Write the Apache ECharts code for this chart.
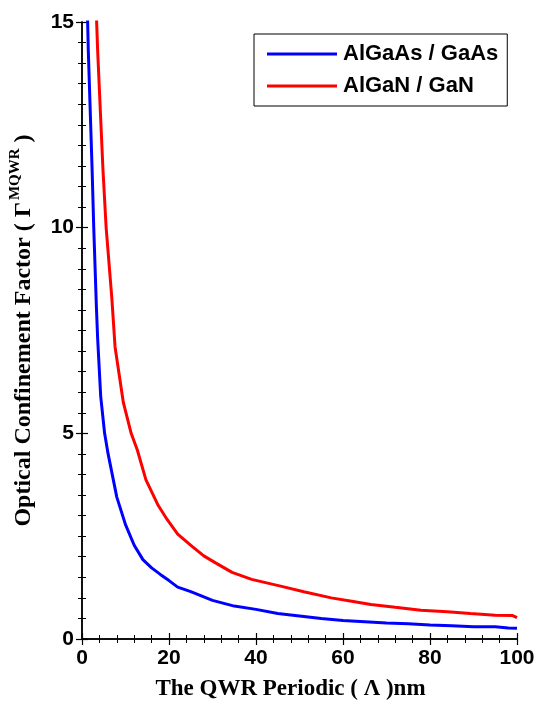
<!DOCTYPE html>
<html>
<head>
<meta charset="utf-8">
<script src="https://cdn.jsdelivr.net/npm/echarts@6/dist/echarts.min.js"></script>
<style>html,body{margin:0;padding:0;background:#fff;}#c{width:539px;height:706px;}</style>
</head>
<body>
<div id="c"></div>
<script>
// Series names
const seriesNames = ['AlGaAs / GaAs', 'AlGaN / GaN'];
// AlGaAs / GaAs (blue)
const xBlue = [1.25, 1.45, 2.3, 2.7, 3.3, 3.6, 4.3, 5.2, 6.0, 8.0, 10, 12, 14, 16, 18, 20, 22, 25, 30, 35, 40, 45, 50, 55, 60, 65, 70, 75, 80, 85, 90, 95, 98, 100];
const yBlue = [15.2, 14.3, 11.5, 10.0, 8.1, 7.3, 5.9, 5.0, 4.5, 3.45, 2.78, 2.28, 1.93, 1.73, 1.57, 1.42, 1.26, 1.15, 0.94, 0.80, 0.72, 0.62, 0.56, 0.50, 0.45, 0.42, 0.39, 0.37, 0.34, 0.32, 0.30, 0.30, 0.27, 0.26];
// AlGaN / GaN (red)
const xRed = [3.3, 3.6, 4.8, 5.55, 6.85, 7.6, 9.5, 11.3, 12.7, 14.7, 16.6, 17.5, 19.6, 22, 25.3, 28, 30.7, 34.5, 39, 45.9, 51, 57.3, 62, 66.4, 72, 77.9, 84, 89.3, 95, 99, 100];
const yRed = [15.2, 14.3, 11.45, 10.0, 8.3, 7.1, 5.75, 5.0, 4.6, 3.87, 3.45, 3.25, 2.9, 2.55, 2.25, 2.02, 1.85, 1.62, 1.45, 1.28, 1.15, 1.0, 0.92, 0.84, 0.77, 0.70, 0.66, 0.62, 0.58, 0.57, 0.52];
// Axis settings
const xMin = 0, xMax = 100, xStep = 20;
const yMin = 0, yMax = 15, yStep = 5;

const pair = (xs, ys) => xs.map((x, i) => [x, ys[i]]);

const chart = echarts.init(document.getElementById('c'), null, {renderer: 'canvas'});
const tickFont = {fontFamily: 'Liberation Sans, Arial, sans-serif', fontWeight: 'bold', fontSize: 21, color: '#000'};
const axisLine = {show: true, lineStyle: {color: '#000', width: 1.5}};
const baseX = {
  type: 'value', min: xMin, max: xMax, interval: xStep,
  axisLine: axisLine,
  axisTick: {show: true, inside: true, length: 6, lineStyle: {color: '#000', width: 1.2}},
  minorTick: {show: true, splitNumber: 5, length: 4, lineStyle: {color: '#000', width: 1}},
  splitLine: {show: false}, minorSplitLine: {show: false}
};
const baseY = {
  type: 'value', min: yMin, max: yMax, interval: yStep,
  axisLine: axisLine,
  axisTick: {show: true, inside: true, length: 6, lineStyle: {color: '#000', width: 1.2}},
  minorTick: {show: true, splitNumber: 10, length: 4, lineStyle: {color: '#000', width: 1}},
  splitLine: {show: false}, minorSplitLine: {show: false}
};
const serif = 'Liberation Serif, Times New Roman, serif';
chart.setOption({
  animation: false,
  backgroundColor: '#fff',
  grid: {left: 79, right: 22, top: 22, bottom: 63, containLabel: false},
  legend: {
    orient: 'vertical', left: 254, top: 34,
    padding: [9, 9, 9, 13],
    borderColor: '#000', borderWidth: 1,
    itemWidth: 70, itemHeight: 3, itemGap: 10,
    icon: 'rect',
    textStyle: {fontFamily: 'Liberation Sans, Arial, sans-serif', fontWeight: 'bold', fontSize: 22, color: '#000', lineHeight: 22, padding: [0, 0, 0, 1]},
    data: seriesNames
  },
  xAxis: [
    Object.assign({}, baseX, {
      position: 'bottom',
      axisLabel: Object.assign({margin: 9}, tickFont),
      name: 'The QWR Periodic ( Λ )nm', nameLocation: 'middle', nameGap: 39,
      nameTextStyle: {fontFamily: serif, fontWeight: 'bold', fontSize: 23, color: '#000', padding: [0, 18, 0, 0]}
    }),
    Object.assign({}, baseX, {position: 'top', axisLabel: {show: false}})
  ],
  yAxis: [
    Object.assign({}, baseY, {
      position: 'left',
      axisLabel: Object.assign({margin: 8}, tickFont),
      name: '{t|Optical Confinement Factor ( Γ}{s|MQWR}{t| )}',
      nameLocation: 'middle', nameGap: 43, nameRotate: 90,
      nameTextStyle: {
        rich: {
          t: {fontFamily: serif, fontWeight: 'bold', fontSize: 24, color: '#000'},
          s: {fontFamily: serif, fontWeight: 'bold', fontSize: 15, color: '#000', padding: [0, 0, 16, 2]}
        }
      }
    }),
    Object.assign({}, baseY, {position: 'right', axisLabel: {show: false}})
  ],
  series: [
    {name: seriesNames[0], type: 'line', data: pair(xBlue, yBlue), showSymbol: false, symbol: 'none', clip: true,
     lineStyle: {color: '#0000ff', width: 3}, itemStyle: {color: '#0000ff'}},
    {name: seriesNames[1], type: 'line', data: pair(xRed, yRed), showSymbol: false, symbol: 'none', clip: true,
     lineStyle: {color: '#ff0000', width: 3}, itemStyle: {color: '#ff0000'}}
  ]
});
</script>
</body>
</html>
